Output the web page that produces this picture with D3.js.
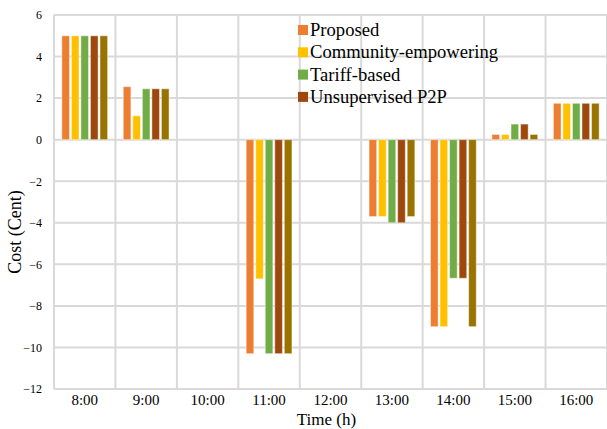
<!DOCTYPE html>
<html>
<head>
<meta charset="utf-8">
<script src="https://cdn.jsdelivr.net/npm/d3@7"></script>
<style>
html,body{margin:0;padding:0;background:#fff;}
svg{display:block;}
svg text{font-family:"Liberation Serif","Times New Roman",serif !important;fill:#000;}
</style>
</head>
<body>
<svg id="chart" width="607" height="429"></svg>
<script>
const categories = ["8:00","9:00","10:00","11:00","12:00","13:00","14:00","15:00","16:00"];
const seriesNames = ["Proposed","Community-empowering","Tariff-based","Unsupervised P2P","Other"];
const proposed   = [5.0, 2.55, 0, -10.3, 0, -3.7, -9.0, 0.25, 1.75];
const community  = [5.0, 1.15, 0, -6.7,  0, -3.7, -9.0, 0.25, 1.75];
const tariff     = [5.0, 2.45, 0, -10.3, 0, -4.0, -6.67, 0.75, 1.75];
const unsupervised = [5.0, 2.45, 0, -10.3, 0, -4.0, -6.67, 0.75, 1.75];
const other      = [5.0, 2.45, 0, -10.3, 0, -3.7, -9.0, 0.25, 1.75];
const seriesValues = [proposed, community, tariff, unsupervised, other];
const colors = ["#ED7D31","#FFC000","#70AD47","#9E480E","#997300"];
const legendNames = seriesNames.slice(0,4);
const yTicks = [6,4,2,0,-2,-4,-6,-8,-10,-12];

(function(){
const svg = d3.select("#chart");
const pl = 54, pr = 607, pt = 15, pb = 389;
const serif = '"Liberation Serif","Times New Roman",serif';

const x = d3.scaleBand().domain(categories).range([pl, pr]).paddingInner(0).paddingOuter(0);
const groupW = x.bandwidth() * 0.745;
const xs = d3.scaleBand().domain(d3.range(seriesNames.length)).range([(x.bandwidth()-groupW)/2, (x.bandwidth()+groupW)/2]).paddingInner(0.2);
const y = d3.scaleLinear().domain([-12, 6]).range([pb, pt]);

const grid = "#d9d9d9";
svg.append("g").selectAll("line").data(yTicks).join("line")
  .attr("x1", pl).attr("x2", pr)
  .attr("y1", d => y(d)).attr("y2", d => y(d))
  .attr("stroke", grid).attr("stroke-width", 2);
const bounds = categories.map(c => x(c)).concat([pr]);
svg.append("g").selectAll("line").data(bounds).join("line")
  .attr("x1", d => d).attr("x2", d => d)
  .attr("y1", pt).attr("y2", pb)
  .attr("stroke", grid).attr("stroke-width", 2);

const groups = svg.append("g").selectAll("g").data(categories).join("g")
  .attr("transform", c => `translate(${x(c)},0)`);
groups.selectAll("rect").data((c, i) => seriesValues.map((s, k) => ({k, v: s[i]})).filter(d => d.v !== 0))
  .join("rect")
  .attr("x", d => xs(d.k))
  .attr("width", xs.bandwidth())
  .attr("y", d => y(Math.max(0, d.v)))
  .attr("height", d => Math.abs(y(d.v) - y(0)))
  .attr("fill", d => colors[d.k])
  .attr("stroke", "#ffffff").attr("stroke-opacity", 0.45).attr("stroke-width", 1);

const yAxis = d3.axisLeft(y).tickValues(yTicks).tickSize(0).tickPadding(12).tickFormat(d3.format("d"));
const ya = svg.append("g").attr("transform", `translate(${pl},0)`).call(yAxis)
  .attr("font-family", serif).style("font-family", serif);
ya.select(".domain").remove();
ya.selectAll("text").attr("font-size", 12).style("font-family", serif);

const xAxis = d3.axisBottom(x).tickSize(0).tickPadding(5);
const xa = svg.append("g").attr("transform", `translate(0,${pb})`).call(xAxis)
  .attr("font-family", serif).style("font-family", serif);
xa.select(".domain").remove();
xa.selectAll("text").attr("font-size", 15).style("font-family", serif);

svg.append("text").attr("x", (pl+pr)/2 - 4).attr("y", 425)
  .attr("text-anchor", "middle").attr("font-size", 17).style("font-family", serif).text("Time (h)");
svg.append("text").attr("transform", "translate(21,232) rotate(-90)")
  .attr("text-anchor", "middle").attr("font-size", 18).style("font-family", serif).text("Cost (Cent)");

const lg = svg.append("g").attr("transform", "translate(298,30)");
const li = lg.selectAll("g").data(legendNames).join("g")
  .attr("transform", (d, i) => `translate(0,${i*22.3})`);
li.append("rect").attr("x", 0).attr("y", -5).attr("width", 10).attr("height", 10)
  .attr("fill", (d, i) => colors[i]);
li.append("text").attr("x", 12).attr("y", 6).attr("font-size", 18.6).style("font-family", serif).text(d => d);
})();
</script>
</body>
</html>
